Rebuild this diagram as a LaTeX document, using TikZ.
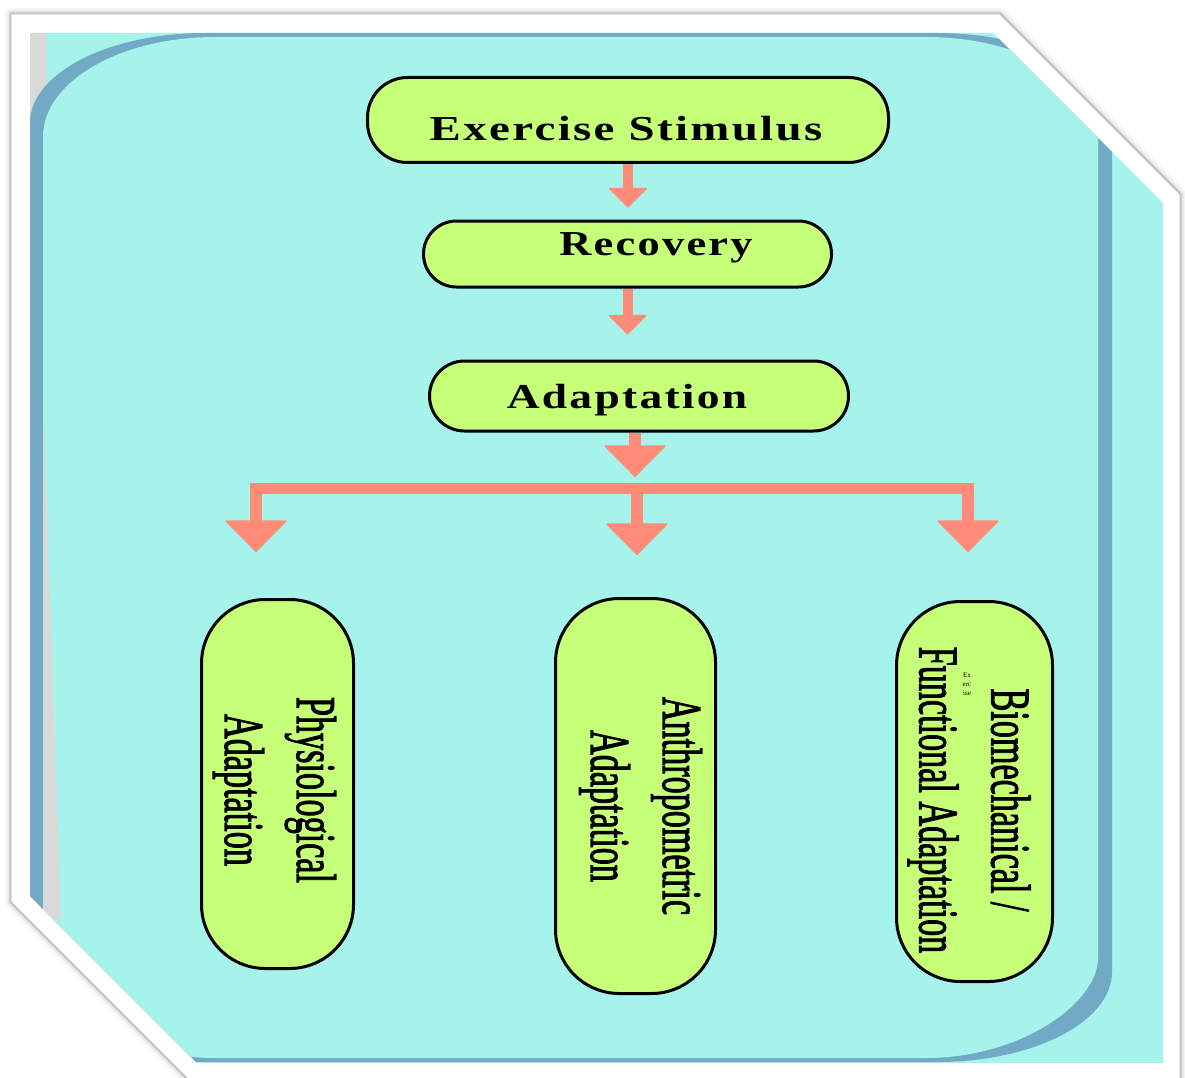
\documentclass[tikz,border=0pt]{standalone}
\usepackage{fontspec}
\usepackage{graphicx}
\setmainfont{Liberation Serif}
\newfontfamily\topfont[LetterSpace=5]{Liberation Serif}
\newfontfamily\botfont[FakeBold=2.2]{Liberation Serif}
\usetikzlibrary{arrows.meta}
\definecolor{bgcyan}{HTML}{A6F3EC}
\definecolor{bandblue}{HTML}{72AAC6}
\definecolor{nodegreen}{HTML}{C6FF78}
\definecolor{arrsalmon}{HTML}{FF8B78}
\definecolor{stripgray}{HTML}{D9D9D9}
\newcommand{\narrowtxt}[1]{\scalebox{0.61}[1]{#1}}
\newcommand{\widetxt}[2]{\scalebox{#1}[1]{#2}}
\pgfdeclarelayer{back}
\pgfdeclarelayer{mid}
\pgfsetlayers{back,mid,main}
\tikzset{
  topbox/.style={draw=black, line width=3pt, fill=nodegreen, rounded corners=40pt, inner sep=0pt},
  botbox/.style={draw=black, line width=3pt, fill=nodegreen, rounded corners=64pt, inner sep=0pt},
  toptext/.style={font=\fontsize{35}{40}\topfont\bfseries, anchor=base, inner sep=0pt},
  bottext/.style={font=\fontsize{56}{72}\botfont, rotate=-90, align=center, inner sep=0pt},
  thinarr/.style={draw=arrsalmon, line width=10pt, -{Triangle[width=40pt,length=20pt,line width=1.5pt,round]}},
  thickarr/.style={draw=arrsalmon, line width=12pt, -{Triangle[width=63pt,length=32pt,line width=1.5pt,round]}},
  barline/.style={draw=arrsalmon, line width=11pt},
}
\begin{document}
\begin{tikzpicture}[x=1pt,y=-1pt]
\useasboundingbox (0,0) rectangle (1185,1078);
\begin{pgfonlayer}{back}
\fill[white] (0,0) rectangle (1185,1078);
\foreach \w/\o in {12/0.04, 7/0.06, 3.5/0.10}
  \draw[line width=\w pt, black, opacity=\o, line join=round]
    (11,14) -- (1000,14) -- (1180,194) -- (1180,1100) -- (209,1100) -- (11,902) -- cycle;
\fill[white] (11,14) -- (1000,14) -- (1180,194) -- (1180,1100) -- (209,1100) -- (11,902) -- cycle;
\draw[gray!60, line width=0.8pt] (11,14) -- (1000,14) -- (1180,194) -- (1180,1100) -- (209,1100) -- (11,902) -- cycle;
\fill[bgcyan] (30,33) -- (993,33) -- (1163,203) -- (1163,1063) -- (197,1063) -- (30,896) -- cycle;
\begin{scope}
  \clip (30,33) -- (993,33) -- (1163,203) -- (1163,1063) -- (197,1063) -- (30,896) -- cycle;
  \fill[stripgray] (30,33) rectangle (47,140);
  \fill[bandblue] (30,123) .. controls (30,73.3) and (108.3,33) .. (205,33)
     -- (937,33) .. controls (1033.7,33) and (1112,73.3) .. (1112,123)
     -- (1112,972) .. controls (1112,1021.7) and (1033.7,1062) .. (937,1062)
     -- (205,1062) .. controls (108.3,1062) and (30,1021.7) .. (30,972) -- cycle;
  \fill[bgcyan] (43,137) .. controls (43,81.8) and (120,37) .. (215,37)
     -- (926,37) .. controls (1021,37) and (1098,81.8) .. (1098,137)
     -- (1098,958) .. controls (1098,1002.8) and (1021,1058) .. (926,1058)
     -- (215,1058) .. controls (120,1058) and (43,1002.8) .. (43,958) -- cycle;
  \fill[stripgray] (43,400) -- (61,920) -- (43,920) -- cycle;
\end{scope}
\end{pgfonlayer}

% nodes
\node[topbox, minimum width=521pt, minimum height=85pt] (es) at (628,120) {};
\node[topbox, minimum width=408pt, minimum height=66pt, rounded corners=33pt] (rec) at (627.5,254) {};
\node[topbox, minimum width=419pt, minimum height=70pt, rounded corners=35pt] (ad) at (639,396) {};
\node[botbox, minimum width=152pt, minimum height=369pt] (p1) at (277.5,784) {};
\node[botbox, minimum width=160pt, minimum height=395pt] (p2) at (635.5,796) {};
\node[botbox, minimum width=156pt, minimum height=380pt] (p3) at (974.5,791.5) {};

\node[toptext] (est) at (626,141) {\widetxt{1.34}{Exercise Stimulus}};
\node[toptext] (rect) at (656,255) {\widetxt{1.27}{Recovery}};
\node[toptext] (adt) at (627,408) {\widetxt{1.30}{Adaptation}};

\node[bottext] (p1t) at (274.5,790) {\narrowtxt{Physiological}\\\narrowtxt{Adaptation}};
\node[bottext] (p2t) at (640.5,806) {\narrowtxt{Anthropometric}\\\narrowtxt{Adaptation}};
\node[bottext] (p3t) at (969,800) {\narrowtxt{Biomechanical /}\\\narrowtxt{Functional Adaptation}};
\node[font=\fontsize{7}{9}\rmfamily, align=center, inner sep=0pt] (tiny) at (967,684) {Ex\\erc\\ise};

% connectors
\coordinate (bl) at (256,488);
\coordinate (br) at (637,488);
\coordinate (brr) at (968,488);
\begin{pgfonlayer}{mid}
\draw[thinarr, shorten >=12pt] (es.south) -- (es.south |- rec.north);
\draw[thinarr, shorten >=25pt] (rec.south) -- (rec.south |- ad.north);
\draw[thickarr, shorten >=11pt] ([xshift=-4pt]ad.south) -- ([xshift=-4pt]ad.south |- br);
\draw[barline] ([xshift=-6pt]bl) -- ([xshift=6pt]brr);
\draw[thickarr, shorten >=46pt] ([yshift=-5pt]bl) -- (bl |- p1.north);
\draw[thickarr, shorten >=42pt] ([yshift=-5pt]br) -- (br |- p2.north);
\draw[thickarr, shorten >=48pt] ([yshift=-5pt]brr) -- (brr |- p3.north);
\end{pgfonlayer}
\end{tikzpicture}
\end{document}
